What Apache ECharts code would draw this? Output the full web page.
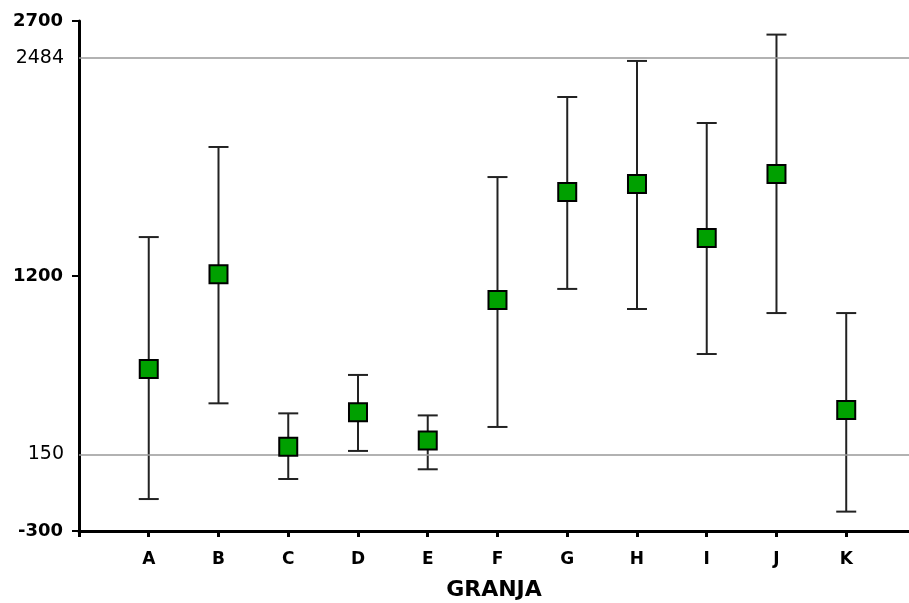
<!DOCTYPE html>
<html>
<head>
<meta charset="utf-8">
<script src="https://cdn.jsdelivr.net/npm/echarts@6/dist/echarts.min.js"></script>
<style>
  html, body { margin: 0; padding: 0; background: #fff; }
  #main { width: 909px; height: 603px; }
</style>
</head>
<body>
<div id="main"></div>
<script>
// farms on the x axis
const categories = ["A", "B", "C", "D", "E", "F", "G", "H", "I", "J", "K"];
// mean and interval ends
const means = [653, 1210, 196, 398, 233, 1059, 1694, 1741, 1424, 1800, 412];
const lows = [-112, 451, 6, 171, 63, 312, 1124, 1006, 741, 982, -186];
const highs = [1429, 1959, 392, 618, 380, 1782, 2253, 2465, 2100, 2620, 982];
// horizontal reference lines
const refLines = [2484, 150];
const yTicks = [-300, 1200, 2700];

const font = "DejaVu Sans";

const errData = categories.map((c, i) => [i + 1, lows[i], highs[i]]);
const pointData = categories.map((c, i) => [i + 1, means[i]]);
const xTickValues = [0].concat(categories.map((c, i) => i + 1));
const xLabelValues = categories.map((c, i) => i + 1);

function renderErr(params, api) {
  const x = api.value(0);
  const lo = api.coord([x, api.value(1)]);
  const hi = api.coord([x, api.value(2)]);
  const half = 10;
  const style = { stroke: "#222", lineWidth: 2 };
  return {
    type: "group",
    children: [
      { type: "line", shape: { x1: lo[0], y1: lo[1], x2: hi[0], y2: hi[1] }, style: style },
      { type: "line", shape: { x1: hi[0] - half, y1: hi[1], x2: hi[0] + half, y2: hi[1] }, style: style },
      { type: "line", shape: { x1: lo[0] - half, y1: lo[1], x2: lo[0] + half, y2: lo[1] }, style: style }
    ]
  };
}

const chart = echarts.init(document.getElementById("main"));
chart.setOption({
  animation: false,
  textStyle: { fontFamily: font },
  grid: { left: 79, right: 0, top: 21, bottom: 72, outerBoundsMode: "none", containLabel: false },
  xAxis: {
    type: "value",
    min: 0,
    max: 11.9,
    interval: 1,
    name: "GRANJA",
    nameLocation: "middle",
    nameGap: 48,
    nameTextStyle: { fontFamily: font, fontSize: 22, fontWeight: "bold", color: "#000" },
    axisLine: { onZero: false, lineStyle: { color: "#000", width: 3 } },
    axisTick: { length: 6, customValues: xTickValues, lineStyle: { color: "#000", width: 3 } },
    axisLabel: {
      margin: 20,
      customValues: xLabelValues,
      fontFamily: font,
      fontSize: 17,
      fontWeight: "bold",
      color: "#000",
      formatter: v => categories[v - 1] || ""
    },
    splitLine: { show: false }
  },
  yAxis: {
    type: "value",
    min: yTicks[0],
    max: yTicks[yTicks.length - 1],
    interval: yTicks[1] - yTicks[0],
    axisLine: { show: true, lineStyle: { color: "#000", width: 3 } },
    axisTick: { show: true, length: 7, lineStyle: { color: "#000", width: 2 } },
    axisLabel: {
      margin: 16,
      padding: [4, 0, 0, 0],
      fontFamily: font,
      fontSize: 18,
      fontWeight: "bold",
      color: "#000",
      formatter: v => String(v)
    },
    splitLine: { show: false }
  },
  series: [
    {
      type: "custom",
      renderItem: renderErr,
      data: errData,
      z: 3,
      silent: true
    },
    {
      type: "scatter",
      data: pointData,
      symbol: "rect",
      symbolSize: 18,
      itemStyle: { color: "#00A000", borderColor: "#000", borderWidth: 2, opacity: 1 },
      z: 5,
      markLine: {
        silent: true,
        symbol: "none",
        lineStyle: { color: "#999", width: 1.5, type: "solid" },
        label: {
          position: "start",
          distance: 15,
          fontFamily: font,
          fontSize: 19,
          fontWeight: "normal",
          color: "#000",
          formatter: p => String(p.value)
        },
        data: refLines.map(v => ({ yAxis: v }))
      }
    }
  ]
});
window.onresize = function() {
  chart.resize();
};
</script>
</body>
</html>
